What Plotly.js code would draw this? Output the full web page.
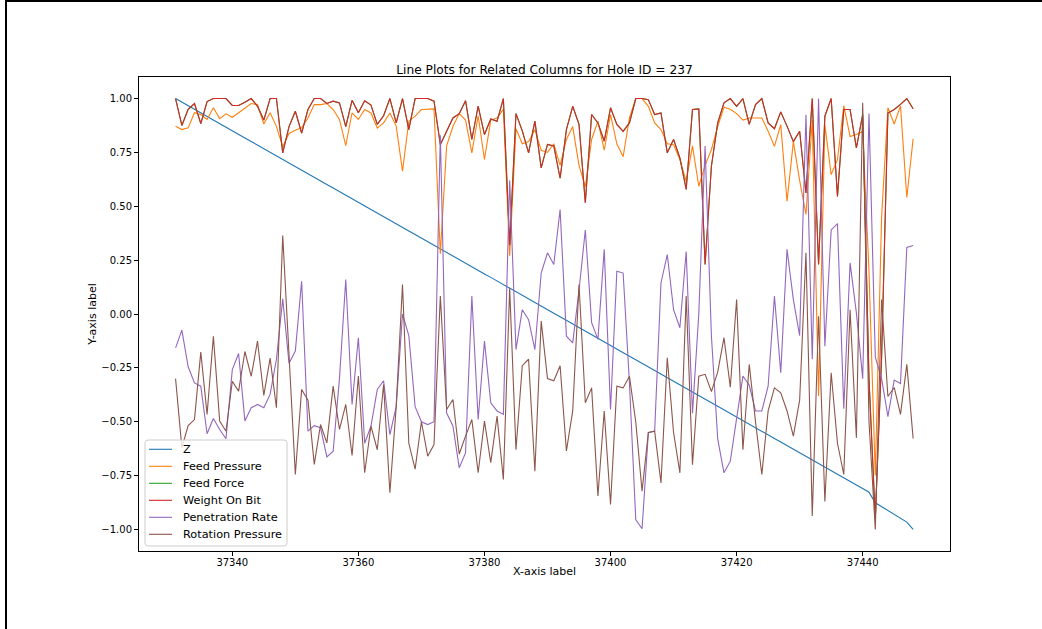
<!DOCTYPE html>
<html>
<head>
<meta charset="utf-8">
<script src="https://cdn.plot.ly/plotly-3.0.1.min.js"></script>
<style>
  html, body { margin: 0; padding: 0; background: #fff; }
  #frame { position: absolute; left: 5px; top: 0; width: 1037px; height: 629px;
           border-left: 2px solid #000; border-top: 2px solid #000; box-sizing: border-box; }
  #chart { position: absolute; left: 0; top: 0; width: 1042px; height: 629px; }
</style>
</head>
<body>
<div id="chart"></div>
<div id="frame"></div>
<script>
// Record index along the hole
const depthIndex = [
  37331,37332,37333,37334,37335,37336,37337,37338,37339,37340,
  37341,37342,37343,37344,37345,37346,37347,37348,37349,37350,
  37351,37352,37353,37354,37355,37356,37357,37358,37359,37360,
  37361,37362,37363,37364,37365,37366,37367,37368,37369,37370,
  37371,37372,37373,37374,37375,37376,37377,37378,37379,37380,
  37381,37382,37383,37384,37385,37386,37387,37388,37389,37390,
  37391,37392,37393,37394,37395,37396,37397,37398,37399,37400,
  37401,37402,37403,37404,37405,37406,37407,37408,37409,37410,
  37411,37412,37413,37414,37415,37416,37417,37418,37419,37420,
  37421,37422,37423,37424,37425,37426,37427,37428,37429,37430,
  37431,37432,37433,37434,37435,37436,37437,37438,37439,37440,
  37441,37442,37443,37444,37445,37446,37447,37448
];

const zValues = [
  1.000,0.983,0.967,0.950,0.934,0.917,0.900,0.884,0.867,0.851,
  0.834,0.817,0.801,0.784,0.767,0.751,0.734,0.718,0.701,0.684,
  0.668,0.651,0.635,0.618,0.601,0.585,0.568,0.552,0.535,0.518,
  0.502,0.485,0.469,0.452,0.435,0.419,0.402,0.385,0.369,0.352,
  0.336,0.319,0.302,0.286,0.269,0.253,0.236,0.219,0.203,0.186,
  0.170,0.153,0.136,0.120,0.103,0.087,0.070,0.053,0.037,0.020,
  0.003,-0.013,-0.030,-0.046,-0.063,-0.080,-0.096,-0.113,-0.129,-0.146,
  -0.163,-0.179,-0.196,-0.212,-0.229,-0.246,-0.262,-0.279,-0.295,-0.312,
  -0.329,-0.345,-0.362,-0.379,-0.395,-0.412,-0.428,-0.445,-0.462,-0.478,
  -0.495,-0.511,-0.528,-0.545,-0.561,-0.578,-0.594,-0.611,-0.628,-0.644,
  -0.661,-0.678,-0.694,-0.711,-0.727,-0.744,-0.761,-0.777,-0.794,-0.810,
  -0.827,-0.876,-0.894,-0.912,-0.930,-0.948,-0.966,-1.000
];

const feedPressure = [
  0.871,0.856,0.864,0.934,0.926,0.903,0.957,0.907,0.929,0.913,
  0.934,0.957,0.977,0.972,0.882,0.934,0.871,0.776,0.838,0.853,
  0.864,0.910,0.972,0.972,0.977,0.949,0.903,0.782,0.934,0.903,
  0.949,0.933,0.863,0.887,0.933,0.872,0.663,0.895,0.918,0.949,
  0.952,0.952,0.280,0.780,0.870,0.930,0.900,0.748,0.920,0.717,
  0.900,0.910,0.950,0.270,0.860,0.790,0.800,0.855,0.760,0.750,
  0.790,0.690,0.810,0.870,0.690,0.590,0.810,0.895,0.760,0.925,
  0.790,0.730,0.910,1.000,1.000,0.964,0.887,0.856,0.790,0.786,
  0.717,0.616,0.780,0.593,0.690,0.763,0.870,0.960,0.950,0.930,
  0.900,0.910,0.910,0.910,0.848,0.778,0.879,0.523,0.800,0.620,
  0.462,0.900,-0.380,0.879,0.647,0.716,0.967,0.824,0.833,0.848,
  0.200,-0.750,0.450,0.957,0.882,0.965,0.541,0.813
];

const weightOnBit = [
  1.000,0.875,0.950,0.977,0.884,0.986,1.000,1.000,1.000,0.968,
  0.968,0.983,1.000,0.964,0.900,1.000,1.000,0.748,0.870,0.941,
  0.840,0.949,1.000,1.000,0.977,0.988,0.980,0.870,0.992,0.934,
  0.990,0.970,0.880,0.920,1.000,0.887,1.000,0.856,1.000,1.000,
  1.000,0.988,0.786,0.848,0.910,0.930,0.990,0.810,0.965,0.833,
  0.905,0.895,1.000,0.320,0.930,0.850,0.748,0.895,0.678,0.787,
  0.780,0.630,0.856,0.964,0.880,0.516,0.926,0.887,0.802,0.957,
  0.880,0.848,0.887,1.000,1.000,0.995,0.926,0.933,0.748,0.810,
  0.725,0.578,0.949,0.952,0.230,0.686,0.887,0.980,1.000,0.964,
  1.000,0.880,0.972,1.000,0.887,0.860,0.938,0.872,0.800,0.848,
  0.562,1.000,0.230,0.918,1.000,0.546,0.949,0.949,0.771,0.926,
  -0.300,-0.950,-0.200,0.933,0.949,0.973,1.000,0.953
];

// Feed Force runs point for point with Weight On Bit
const feedForce = [
  1.000,0.875,0.950,0.977,0.884,0.986,1.000,1.000,1.000,0.968,
  0.968,0.983,1.000,0.964,0.900,1.000,1.000,0.748,0.870,0.941,
  0.840,0.949,1.000,1.000,0.977,0.988,0.980,0.870,0.992,0.934,
  0.990,0.970,0.880,0.920,1.000,0.887,1.000,0.856,1.000,1.000,
  1.000,0.988,0.786,0.848,0.910,0.930,0.990,0.810,0.965,0.833,
  0.905,0.895,1.000,0.320,0.930,0.850,0.748,0.895,0.678,0.787,
  0.780,0.630,0.856,0.964,0.880,0.516,0.926,0.887,0.802,0.957,
  0.880,0.848,0.887,1.000,1.000,0.995,0.926,0.933,0.748,0.810,
  0.725,0.578,0.949,0.952,0.230,0.686,0.887,0.980,1.000,0.964,
  1.000,0.880,0.972,1.000,0.887,0.860,0.938,0.872,0.800,0.848,
  0.562,1.000,0.230,0.918,1.000,0.546,0.949,0.949,0.771,0.926,
  -0.300,-0.950,-0.200,0.933,0.949,0.973,1.000,0.953
];

const penetrationRate = [
  -0.157,-0.075,-0.245,-0.320,-0.335,-0.556,-0.485,-0.536,-0.579,-0.258,
  -0.183,-0.497,-0.435,-0.420,-0.435,-0.373,-0.210,0.070,-0.229,-0.172,
  0.152,-0.544,-0.518,-0.528,-0.663,-0.637,-0.300,0.160,-0.420,-0.110,
  -0.600,-0.520,-0.350,-0.310,-0.560,-0.430,0.000,-0.100,-0.430,-0.500,
  -0.513,-0.500,0.830,-0.460,-0.520,-0.714,-0.645,0.083,-0.490,-0.126,
  -0.412,-0.450,-0.466,0.620,-0.165,0.020,-0.026,-0.165,0.190,0.284,
  0.230,0.485,-0.103,-0.134,0.110,0.390,-0.040,-0.118,0.300,-0.443,
  0.199,0.190,-0.320,-0.954,-0.997,-0.551,-0.543,0.144,0.276,0.020,
  -0.064,0.290,-0.460,0.000,0.780,-0.100,-0.580,-0.737,-0.683,-0.490,
  -0.288,-0.330,-0.450,-0.450,-0.335,0.083,-0.273,0.300,0.067,-0.100,
  0.925,-0.210,1.000,-0.150,0.390,0.420,-0.440,0.237,0.005,-0.300,
  0.930,-0.200,-0.300,-0.476,-0.307,-0.323,0.309,0.318
];

const rotationPressure = [
  -0.300,-0.620,-0.518,-0.490,-0.177,-0.466,-0.103,-0.497,-0.544,-0.312,
  -0.358,-0.174,-0.289,-0.126,-0.378,-0.205,-0.435,0.364,-0.190,-0.745,
  -0.350,-0.400,-0.698,-0.513,-0.598,-0.335,-0.536,-0.420,-0.657,-0.288,
  -0.737,-0.520,-0.630,-0.327,-0.830,-0.430,0.137,-0.600,-0.720,-0.500,
  -0.660,-0.606,0.083,-0.443,-0.397,-0.650,-0.567,-0.490,-0.737,-0.497,
  -0.690,-0.474,-0.768,0.120,-0.630,-0.240,-0.210,-0.730,-0.033,-0.300,
  -0.310,-0.240,-0.636,-0.450,0.137,-0.412,-0.343,-0.845,-0.450,-0.884,
  -0.335,-0.343,-0.289,-0.500,-0.822,-0.550,-0.544,-0.784,-0.203,-0.550,
  -0.737,0.083,-0.700,-0.289,-0.280,-0.360,-0.270,-0.110,-0.340,0.067,
  -0.630,-0.234,-0.500,-0.745,-0.450,-0.343,-0.366,-0.450,-0.567,-0.400,
  0.284,-0.938,-0.010,-0.870,-0.273,-0.600,-0.745,0.020,-0.575,0.980,
  -0.500,-1.000,0.067,-0.383,-0.341,-0.466,-0.234,-0.578
];

const seriesNames = ['Z', 'Feed Pressure', 'Feed Force', 'Weight On Bit', 'Penetration Rate', 'Rotation Pressure'];
const seriesValues = [zValues, feedPressure, feedForce, weightOnBit, penetrationRate, rotationPressure];
const seriesColors = ['#1f77b4', '#ff7f0e', '#2ca02c', '#d62728', '#9467bd', '#8c564b'];

const xTicks = [37340, 37360, 37380, 37400, 37420, 37440];
const yTicks = [-1.0, -0.75, -0.5, -0.25, 0.0, 0.25, 0.5, 0.75, 1.0];

const traces = seriesNames.map((name, k) => ({
  type: 'scatter',
  mode: 'lines',
  name: name,
  x: depthIndex,
  y: seriesValues[k],
  line: { color: seriesColors[k], width: 1.1 },
  showlegend: false
}));

const font = { family: 'DejaVu Sans, sans-serif', color: '#000' };

// Legend panel in the lower-left corner of the axes (paper coordinates)
const plotW = 811, plotH = 474;
const px = v => v / plotW;
const py = v => v / plotH;
const box = { x0: px(6), x1: px(148), y0: py(5), y1: py(111) };
const rx = px(3), ry = py(3);
const boxPath =
  `M ${box.x0 + rx},${box.y1} L ${box.x1 - rx},${box.y1} ` +
  `Q ${box.x1},${box.y1} ${box.x1},${box.y1 - ry} L ${box.x1},${box.y0 + ry} ` +
  `Q ${box.x1},${box.y0} ${box.x1 - rx},${box.y0} L ${box.x0 + rx},${box.y0} ` +
  `Q ${box.x0},${box.y0} ${box.x0},${box.y0 + ry} L ${box.x0},${box.y1 - ry} ` +
  `Q ${box.x0},${box.y1} ${box.x0 + rx},${box.y1} Z`;

const shapes = [{
  type: 'path', xref: 'paper', yref: 'paper', path: boxPath, layer: 'above',
  fillcolor: 'rgba(255,255,255,0.8)', line: { color: '#cccccc', width: 1 }
}];
const annotations = [];
seriesNames.forEach((name, k) => {
  const yc = py(101.7 - 17 * k);
  shapes.push({
    type: 'line', xref: 'paper', yref: 'paper', layer: 'above',
    x0: px(10), x1: px(33), y0: yc, y1: yc,
    line: { color: seriesColors[k], width: 1.1 }
  });
  annotations.push({
    xref: 'paper', yref: 'paper', x: px(42), y: yc,
    xanchor: 'left', yanchor: 'middle', showarrow: false,
    text: name, font: Object.assign({ size: 11.3 }, font)
  });
});

const layout = {
  width: 1042,
  height: 629,
  margin: { l: 139, r: 92, t: 77, b: 78 },
  paper_bgcolor: '#fff',
  plot_bgcolor: '#fff',
  font: Object.assign({ size: 10 }, font),
  showlegend: false,
  title: {
    text: 'Line Plots for Related Columns for Hole ID = 237',
    font: Object.assign({ size: 12.2 }, font),
    x: 0.5, xanchor: 'center', xref: 'paper',
    y: 1, yanchor: 'bottom', yref: 'paper', pad: { b: 3 }
  },
  xaxis: {
    range: [37325.2, 37453.85],
    tickvals: xTicks,
    ticktext: xTicks.map(String),
    ticks: 'outside', ticklen: 4, tickwidth: 1, tickcolor: '#000',
    ticklabelstandoff: -2,
    showline: true, linecolor: '#000', linewidth: 1, mirror: true,
    showgrid: false, zeroline: false,
    tickfont: Object.assign({ size: 10 }, font),
    title: { text: 'X-axis label', font: Object.assign({ size: 11 }, font), standoff: 0 }
  },
  yaxis: {
    range: [-1.1, 1.1],
    tickvals: yTicks,
    tickformat: '.2f',
    ticks: 'outside', ticklen: 4, tickwidth: 1, tickcolor: '#000',
    showline: true, linecolor: '#000', linewidth: 1, mirror: true,
    showgrid: false, zeroline: false,
    tickfont: Object.assign({ size: 10 }, font),
    title: { text: 'Y-axis label', font: Object.assign({ size: 11 }, font), standoff: 2 }
  },
  shapes: shapes,
  annotations: annotations
};

Plotly.newPlot('chart', traces, layout, { displayModeBar: false, staticPlot: true });
</script>
</body>
</html>
